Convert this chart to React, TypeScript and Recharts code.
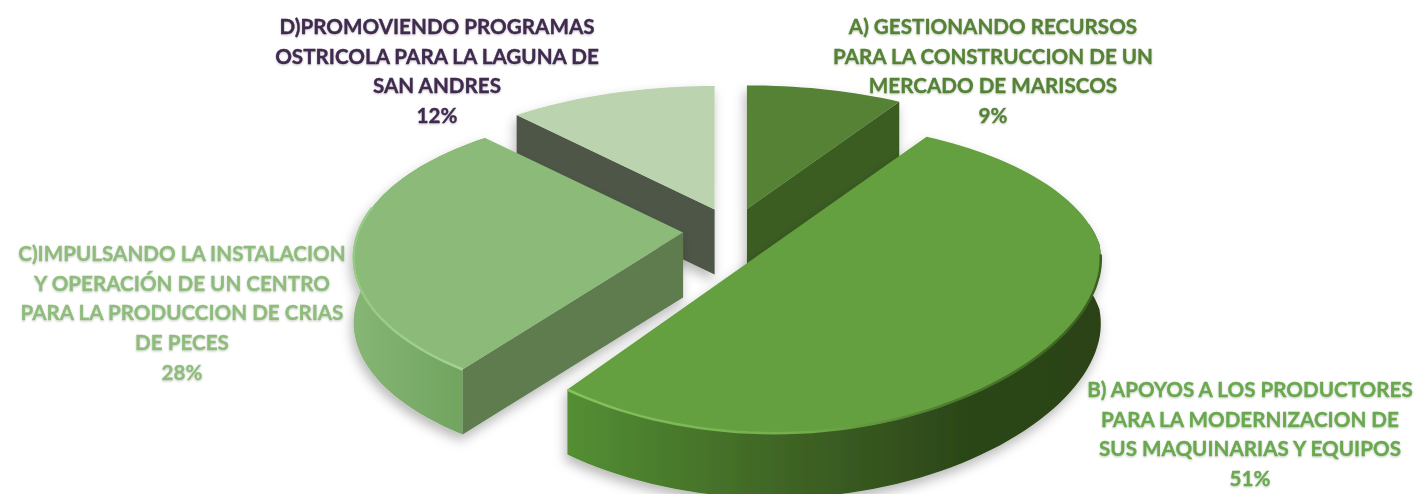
import { Pie, PieChart } from "recharts";

const names = ["A", "B", "C", "D"];
const values = [9, 51, 28, 12];
const labelLines = [
  ["A) GESTIONANDO RECURSOS", "PARA LA CONSTRUCCION DE UN", "MERCADO DE MARISCOS"],
  ["B) APOYOS A LOS PRODUCTORES", "PARA LA MODERNIZACION DE", "SUS MAQUINARIAS Y EQUIPOS"],
  ["C)IMPULSANDO LA INSTALACION", "Y OPERACIÓN DE UN CENTRO", "PARA LA PRODUCCION DE CRIAS", "DE PECES"],
  ["D)PROMOVIENDO PROGRAMAS", "OSTRICOLA PARA LA LAGUNA DE", "SAN ANDRES"],
];

const slices = names.map((name, i) => ({ name, value: values[i] }));

// painter's order, back slices first
const drawOrder = [3, 0, 2, 1];

const topColors = ["#548235", "#65a03f", "#8bba79", "#bbd3ae"];
const cutColors = ["#3a5d22", "#2b4518", "#5e7c50", "#4e5747"];
const textColors = ["#548235", "#6aa84f", "#8fbc7c", "#3f2a4e"];
const labelX = [993, 1250, 182, 437];
const labelY = [34, 397, 261, 34];

// foreshortening of the near half differs a bit between the left and right slices
const frontPerspectiveX = [0.095, 0.095, 0.165, 0.095];
const frontPerspectiveY = [0.21, 0.21, 0.145, 0.21];

const WIDTH = 1418;
const HEIGHT = 494;
const CX = 733;
const CY = 231;
const RADIUS = 325;
const TILT = 0.46; // vertical squash of the pie plane
const PERSPECTIVE_Y = 0.21;
const PERSPECTIVE_X_BACK = 0.17;
const EXPLODE = 50;
const DEPTH = 65;

const rad = (deg: number) => (deg * Math.PI) / 180;

function project(deg: number, r: number, index: number) {
  const z = Math.sin(rad(deg));
  const wx = 1 + (z > 0 ? PERSPECTIVE_X_BACK : frontPerspectiveX[index]) * z;
  const wy = 1 + (z > 0 ? PERSPECTIVE_Y : frontPerspectiveY[index]) * z;
  return { x: (r * Math.cos(rad(deg))) / wx, y: (-TILT * r * z) / wy };
}

function arcPoints(from: number, to: number, r: number, ox: number, oy: number, index: number) {
  const pts: string[] = [];
  const n = Math.max(2, Math.ceil(Math.abs(to - from) / 2));
  for (let i = 0; i <= n; i++) {
    const p = project(from + ((to - from) * i) / n, r, index);
    pts.push(`${(ox + p.x).toFixed(1)},${(oy + p.y).toFixed(1)}`);
  }
  return pts;
}

function Slice(props: any) {
  const { cx, cy, outerRadius, startAngle, endAngle, index } = props;
  const mid = (startAngle + endAngle) / 2;
  const ox = cx + EXPLODE * Math.cos(rad(mid));
  const oy = cy - EXPLODE * TILT * Math.sin(rad(mid));

  const topArc = arcPoints(startAngle, endAngle, outerRadius, ox, oy, index);
  const top = `M${ox},${oy} L${topArc.join(" L")} Z`;

  // which radial face looks at the viewer depends on the slice
  const cutAngle = index === 0 ? endAngle : startAngle;
  const p = project(cutAngle, outerRadius, index);
  const cut = `M${ox},${oy} L${ox + p.x},${oy + p.y} L${ox + p.x},${oy + p.y + DEPTH} L${ox},${oy + DEPTH} Z`;

  // only the part of the rim that faces the viewer gets a wall
  let wall = "";
  let rim = "";
  if (index === 1 || index === 2) {
    const from = Math.min(startAngle, 8);
    const up = arcPoints(from, endAngle, outerRadius, ox, oy, index);
    const low = arcPoints(endAngle, from, outerRadius, ox, oy + DEPTH, index);
    wall = `M${up.join(" L")} L${low.join(" L")} Z`;
    const rimFrom = Math.min(startAngle, -4);
    const rimTo = Math.max(endAngle, -190);
    rim = `M${arcPoints(rimFrom, rimTo, outerRadius, ox, oy, index).join(" L")}`;
  }

  return (
    <g filter="url(#pieShadow)">
      {wall && <path d={wall} fill={`url(#wall${index})`} />}
      {index !== 1 && <path d={cut} fill={cutColors[index]} />}
      <path d={top} fill={topColors[index]} />
      {rim && <path d={rim} fill="none" stroke={`url(#rim${index})`} strokeWidth={2.5} />}
    </g>
  );
}

function renderLabel(props: any) {
  const i = props.index;
  const lines = [...labelLines[i], `${values[i]}%`];
  return (
    <text
      key={i}
      textAnchor="middle"
      fontFamily="Lato, sans-serif"
      fontWeight={700}
      fontSize={20.65}
      fill={textColors[i]}
      stroke={textColors[i]}
      strokeWidth={0.35}
      filter="url(#labelGlow)"
    >
      {lines.map((line, j) => (
        <tspan key={j} x={labelX[i]} y={labelY[i] + j * 29.7}>
          {line}
        </tspan>
      ))}
    </text>
  );
}

export default function App() {
  return (
    <div style={{ position: "absolute", left: 0, top: 0, background: "#fff" }}>
      <PieChart width={WIDTH} height={HEIGHT} margin={{ top: 0, right: 0, bottom: 0, left: 0 }}>
        <defs>
          <filter id="pieShadow" x="-15%" y="-15%" width="130%" height="130%">
            <feGaussianBlur in="SourceGraphic" stdDeviation="0.7" result="soft" />
            <feDropShadow in="soft" dx="-2" dy="6" stdDeviation="6" floodColor="#000" floodOpacity="0.28" />
          </filter>
          <filter id="labelGlow" x="-5%" y="-5%" width="110%" height="110%">
            <feGaussianBlur in="SourceGraphic" stdDeviation="0.5" result="soft" />
            <feDropShadow in="soft" dx="0" dy="1" stdDeviation="1.2" floodColor="#000" floodOpacity="0.22" />
          </filter>
          <linearGradient id="wall1" gradientUnits="userSpaceOnUse" x1="565" y1="0" x2="1105" y2="0">
            <stop offset="0%" stopColor="#548f33" />
            <stop offset="40%" stopColor="#3f6525" />
            <stop offset="75%" stopColor="#2b4518" />
            <stop offset="100%" stopColor="#2a4317" />
          </linearGradient>
          <linearGradient id="wall2" gradientUnits="userSpaceOnUse" x1="357" y1="0" x2="470" y2="0">
            <stop offset="0%" stopColor="#86b574" />
            <stop offset="100%" stopColor="#6fa35e" />
          </linearGradient>
          <linearGradient id="rim1" gradientUnits="userSpaceOnUse" x1="565" y1="0" x2="1105" y2="0">
            <stop offset="0%" stopColor="#86c45f" />
            <stop offset="45%" stopColor="#72ad4c" />
            <stop offset="70%" stopColor="#4d7d30" />
            <stop offset="100%" stopColor="#3a5f22" />
          </linearGradient>
          <linearGradient id="rim2" gradientUnits="userSpaceOnUse" x1="357" y1="0" x2="470" y2="0">
            <stop offset="0%" stopColor="#98c985" />
            <stop offset="100%" stopColor="#a4d490" />
          </linearGradient>
        </defs>
        {drawOrder.map((own) => (
          <Pie
            key={own}
            data={slices}
            dataKey="value"
            nameKey="name"
            cx={CX}
            cy={CY}
            outerRadius={RADIUS}
            startAngle={90}
            endAngle={-270}
            stroke="none"
            isAnimationActive={false}
            labelLine={false}
            label={own === 1 ? renderLabel : false}
            shape={(p: any) => (p.index === own ? <Slice {...p} /> : <g />)}
          />
        ))}
      </PieChart>
    </div>
  );
}
